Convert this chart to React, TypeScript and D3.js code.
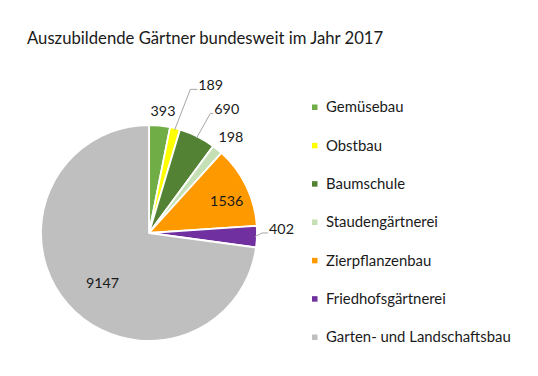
import React from "react";
import * as d3 from "d3";

const categories = [
  "Gemüsebau",
  "Obstbau",
  "Baumschule",
  "Staudengärtnerei",
  "Zierpflanzenbau",
  "Friedhofsgärtnerei",
  "Garten- und Landschaftsbau",
];
const values = [393, 189, 690, 198, 1536, 402, 9147];
const colors = ["#70AD47", "#FFFF00", "#548235", "#C5E0B4", "#FF9900", "#7030A0", "#BFBFBF"];
const title = "Auszubildende Gärtner bundesweit im Jahr 2017";

// label layout: polar position of label centre (angle offset from slice mid, radius), leader flag
const labelLayout = [
  { da: 0.9, r: 123, leader: false },
  { da: 8.7, r: 160, leader: true, hook: 7 },
  { da: 5.6, r: 146, leader: true, hook: 3 },
  { da: 1.2, r: 126, leader: false },
  { da: 3.5, r: 84, leader: false },
  { da: -3.7, r: 132.6, leader: true, hook: 6 },
  { da: -5.7, r: 68, leader: false },
];

const FONT = "Lato, 'Open Sans', sans-serif";

export default function App() {
  const W = 538, H = 376;
  const cx = 149, cy = 233, R = 108;
  const data = categories.map((c, i) => ({ c, v: values[i], col: colors[i] }));
  const pie = d3.pie<any>().value((d) => d.v).sort(null).startAngle(0).endAngle(2 * Math.PI);
  const arcs = pie(data);
  const arc = d3.arc<any>().innerRadius(0).outerRadius(R);
  const pt = (a: number, r: number) => [Math.sin(a) * r, -Math.cos(a) * r];
  const toRad = Math.PI / 180;

  const legendY = d3.scalePoint<string>().domain(categories).range([107, 337]);

  return (
    <svg width={W} height={H} style={{ position: "absolute", left: 0, top: 0, background: "#fff" }}>
      <rect width={W} height={H} fill="#fff" />
      <text x={27} y={44} fontFamily={FONT} fontSize={16.7} fill="#1a1a1a">{title}</text>
      <g transform={`translate(${cx},${cy})`}>
        {arcs.map((a, i) => (
          <path key={i} d={arc(a) as string} fill={a.data.col} stroke="#fff" strokeWidth={1.8} strokeLinejoin="round" />
        ))}
        {arcs.map((a, i) => {
          const L = labelLayout[i];
          const mid = (a.startAngle + a.endAngle) / 2;
          const [lx, ly] = pt(mid + L.da * toRad, L.r);
          const label = String(a.data.v);
          const els: any[] = [];
          if (L.leader) {
            const tw = label.length * 7.6;
            const left = lx - tw / 2;
            const [sx, sy] = pt(mid, R - 2);
            const ex = left - 2, ey = ly + 4;
            const bx = ex - (L.hook || 5);
            els.push(
              <polyline key="l" points={`${sx},${sy} ${bx},${ey} ${ex},${ey}`} fill="none" stroke="#A6A6A6" strokeWidth={1} />
            );
          }
          els.push(
            <text key="t" x={lx} y={ly} dy="0.35em" textAnchor="middle" fontFamily={FONT} fontSize={14.3} fill="#1a1a1a">
              {label}
            </text>
          );
          return <g key={i}>{els}</g>;
        })}
      </g>
      <g>
        {data.map((d, i) => {
          const y = legendY(d.c)!;
          return (
            <g key={i}>
              <rect x={312} y={y - 2.5} width={5.5} height={5.5} fill={d.col} />
              <text x={326} y={y} dy="0.35em" fontFamily={FONT} fontSize={14.9} fill="#1a1a1a">{d.c}</text>
            </g>
          );
        })}
      </g>
    </svg>
  );
}
